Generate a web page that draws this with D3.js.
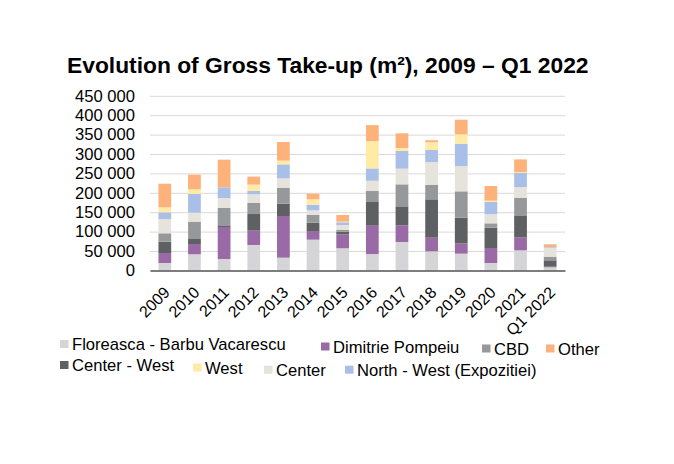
<!DOCTYPE html>
<html>
<head>
<meta charset="utf-8">
<script src="https://cdn.jsdelivr.net/npm/d3@7"></script>
<style>
  html, body { margin: 0; padding: 0; background: #ffffff; }
  svg { display: block; font-family: "Liberation Sans", Arial, sans-serif; }
</style>
</head>
<body>
<svg id="chart" width="674" height="464"></svg>
<script>
const categories = ["2009","2010","2011","2012","2013","2014","2015","2016","2017","2018","2019","2020","2021","Q1 2022"];
const seriesNames = ["Floreasca - Barbu Vacarescu","Dimitrie Pompeiu","Center - West","CBD","Center","North - West (Expozitiei)","West","Other"];
const floreasca  = [19000,41500,29400,65500,32800,79200,57000,42300,73200,49100,43100,19100,51700,8000];
const dimitrie   = [25800,26500,82500,36900,107400,22300,36000,72900,42900,35200,26700,38600,33500,1600];
const centerWest = [29200,12900,2500,42900,31800,21500,6800,61100,49000,98900,66100,52400,55000,16400];
const cbd        = [21600,44700,46400,28400,41200,20600,4300,28300,56700,36900,67900,11200,46400,9400];
const center     = [36900,23200,25800,22600,24100,11200,12900,26400,40400,59200,65200,24000,28300,23100];
const northWest  = [17200,48100,27500,8500,36000,14600,7000,31800,45500,31000,57600,31000,36100,1800];
const west       = [12900,12100,0,16300,9500,13800,1600,70500,7700,20000,24000,3400,2600,0];
const other      = [60800,37700,71300,20700,48100,14500,17200,41200,37900,5200,37800,37800,32600,7000];
const yTicks = [0,50000,100000,150000,200000,250000,300000,350000,400000,450000];
const colors = ["#d5d5d7","#9a6aa6","#5f6062","#97989a","#e6e2dc","#a9bfe7","#ffeaa6","#fdb27b"];

(function () {
const seriesValues = [floreasca, dimitrie, centerWest, cbd, center, northWest, west, other];
const keys = seriesNames;
const rows = categories.map((c, i) => {
  const r = { cat: c };
  keys.forEach((k, j) => r[k] = seriesValues[j][i]);
  return r;
});
const stack = d3.stack().keys(keys)(rows);

const svg = d3.select("#chart");
const pLeft = 150, pRight = 565, pTop = 95.8, pBottom = 270.4;
const fs = 16.6;

const x = d3.scaleBand().domain(categories).range([pLeft, pRight]).paddingInner(0.57).paddingOuter(0.285);
const y = d3.scaleLinear().domain([0, 450000]).range([pBottom, pTop]);
const fmt = d3.formatLocale({ decimal: ",", thousands: " ", grouping: [3], currency: ["", ""] }).format(",.0f");

// title
svg.append("text")
  .attr("x", 67).attr("y", 73)
  .attr("font-size", 22.8).attr("font-weight", "bold").attr("fill", "#000")
  .text("Evolution of Gross Take-up (m\u00B2), 2009 \u2013 Q1 2022");

// gridlines + y labels
const yAxisG = svg.append("g").attr("transform", `translate(${pLeft},0)`)
  .call(d3.axisLeft(y).tickValues(yTicks).tickSize(-(pRight - pLeft)).tickPadding(15).tickFormat(fmt));
yAxisG.select(".domain").remove();
yAxisG.selectAll(".tick line").attr("stroke", "#d9d9d9").attr("stroke-width", 1);
yAxisG.selectAll(".tick text").attr("font-size", fs).attr("fill", "#000").attr("font-family", "Liberation Sans, Arial, sans-serif");

// bars
svg.append("g").selectAll("g").data(stack).join("g")
  .attr("fill", (d, i) => colors[i])
  .selectAll("rect").data(d => d).join("rect")
  .attr("x", d => x(d.data.cat))
  .attr("width", x.bandwidth())
  .attr("y", d => y(d[1]))
  .attr("height", d => Math.max(0, y(d[0]) - y(d[1])));

// x axis
const xAxisG = svg.append("g").attr("transform", `translate(0,${pBottom})`)
  .call(d3.axisBottom(x).tickSize(0).tickPadding(0));
xAxisG.select(".domain").attr("stroke", "#595959").attr("stroke-width", 1.5);
xAxisG.selectAll(".tick text")
  .attr("font-size", 16).attr("fill", "#000").attr("font-family", "Liberation Sans, Arial, sans-serif")
  .attr("text-anchor", "end").attr("dy", 0).attr("y", 0)
  .attr("transform", "translate(6,23) rotate(-45)");

// legend
const legendLayout = [
  { i: 0, x: 60, y: 350 }, { i: 1, x: 321, y: 352.5 }, { i: 3, x: 482, y: 354.5 }, { i: 7, x: 546, y: 354.5 },
  { i: 2, x: 60, y: 371 }, { i: 6, x: 193, y: 373.5 }, { i: 4, x: 264, y: 375.7 }, { i: 5, x: 345, y: 375.7 }
];
const lg = svg.append("g").selectAll("g").data(legendLayout).join("g")
  .attr("transform", d => `translate(${d.x},${d.y})`);
lg.append("rect").attr("x", 0).attr("y", -10).attr("width", 8.5).attr("height", 8).attr("fill", d => colors[d.i]);
lg.append("text").attr("x", 12).attr("y", 0).attr("font-size", fs).attr("fill", "#000")
  .text(d => seriesNames[d.i]);
})();
</script>
</body>
</html>
